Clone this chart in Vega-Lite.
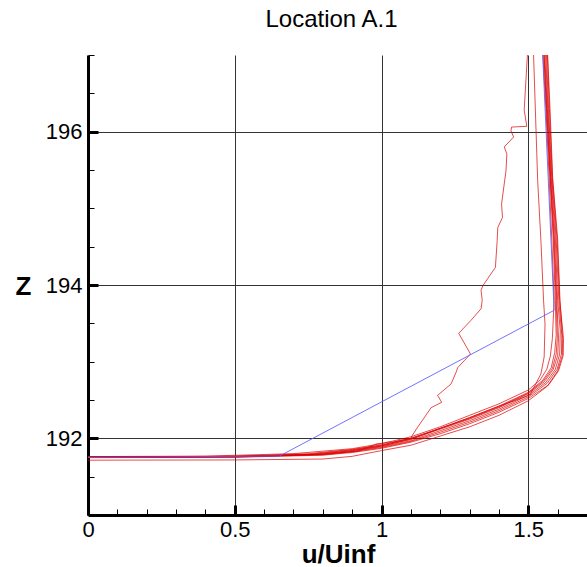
{
  "$schema": "https://vega.github.io/schema/vega-lite/v6.json",
  "width": 499,
  "height": 460,
  "autosize": {"type": "none"},
  "padding": {"left": 88, "top": 55, "right": 0, "bottom": 52},
  "title": {"text": "Location A.1", "fontSize": 24, "font": "Liberation Sans", "fontWeight": "normal", "color": "black", "anchor": "middle", "frame": "group", "baseline": "alphabetic", "offset": 24, "dx": -6, "dy": 31},
  "config": {"view": {"stroke": null}, "font": "Liberation Sans"},
  "data": {"values": [
    {"c":"C1","u":0,"z":191.762},{"c":"C1","u":0.4,"z":191.768},{"c":"C1","u":0.7,"z":191.8},{"c":"C1","u":0.9,"z":191.865},{"c":"C1","u":1.0,"z":191.93},{"c":"C1","u":1.1,"z":192.02},{"c":"C1","u":1.2,"z":192.15},{"c":"C1","u":1.3,"z":192.3},{"c":"C1","u":1.4,"z":192.45},{"c":"C1","u":1.5,"z":192.63},{"c":"C1","u":1.54,"z":192.76},{"c":"C1","u":1.563,"z":192.9},{"c":"C1","u":1.575,"z":193.07},{"c":"C1","u":1.582,"z":193.3},{"c":"C1","u":1.588,"z":193.8},{"c":"C1","u":1.58,"z":194.6},{"c":"C1","u":1.571,"z":195.4},{"c":"C1","u":1.56,"z":196.3},{"c":"C1","u":1.55,"z":197},
    {"c":"C2","u":0,"z":191.758},{"c":"C2","u":0.5,"z":191.765},{"c":"C2","u":0.75,"z":191.79},{"c":"C2","u":0.9,"z":191.85},{"c":"C2","u":1.0,"z":191.91},{"c":"C2","u":1.1,"z":192.0},{"c":"C2","u":1.2,"z":192.13},{"c":"C2","u":1.3,"z":192.27},{"c":"C2","u":1.4,"z":192.42},{"c":"C2","u":1.5,"z":192.6},{"c":"C2","u":1.55,"z":192.76},{"c":"C2","u":1.578,"z":192.92},{"c":"C2","u":1.59,"z":193.12},{"c":"C2","u":1.595,"z":193.35},{"c":"C2","u":1.592,"z":193.8},{"c":"C2","u":1.585,"z":194.6},{"c":"C2","u":1.574,"z":195.4},{"c":"C2","u":1.562,"z":196.3},{"c":"C2","u":1.553,"z":197},
    {"c":"C3","u":0,"z":191.755},{"c":"C3","u":0.5,"z":191.762},{"c":"C3","u":0.75,"z":191.785},{"c":"C3","u":0.9,"z":191.84},{"c":"C3","u":1.0,"z":191.9},{"c":"C3","u":1.1,"z":191.99},{"c":"C3","u":1.2,"z":192.12},{"c":"C3","u":1.3,"z":192.25},{"c":"C3","u":1.4,"z":192.4},{"c":"C3","u":1.5,"z":192.58},{"c":"C3","u":1.555,"z":192.74},{"c":"C3","u":1.585,"z":192.9},{"c":"C3","u":1.6,"z":193.08},{"c":"C3","u":1.603,"z":193.3},{"c":"C3","u":1.597,"z":193.8},{"c":"C3","u":1.589,"z":194.6},{"c":"C3","u":1.576,"z":195.4},{"c":"C3","u":1.565,"z":196.3},{"c":"C3","u":1.556,"z":197},
    {"c":"C4","u":0,"z":191.752},{"c":"C4","u":0.5,"z":191.758},{"c":"C4","u":0.8,"z":191.79},{"c":"C4","u":0.9,"z":191.83},{"c":"C4","u":1.0,"z":191.89},{"c":"C4","u":1.1,"z":191.97},{"c":"C4","u":1.2,"z":192.1},{"c":"C4","u":1.3,"z":192.23},{"c":"C4","u":1.4,"z":192.38},{"c":"C4","u":1.5,"z":192.56},{"c":"C4","u":1.56,"z":192.73},{"c":"C4","u":1.592,"z":192.9},{"c":"C4","u":1.607,"z":193.1},{"c":"C4","u":1.609,"z":193.4},{"c":"C4","u":1.6,"z":193.8},{"c":"C4","u":1.592,"z":194.6},{"c":"C4","u":1.578,"z":195.4},{"c":"C4","u":1.567,"z":196.3},{"c":"C4","u":1.559,"z":197},
    {"c":"C5","u":0,"z":191.75},{"c":"C5","u":0.5,"z":191.756},{"c":"C5","u":0.8,"z":191.785},{"c":"C5","u":0.9,"z":191.825},{"c":"C5","u":1.0,"z":191.88},{"c":"C5","u":1.1,"z":191.96},{"c":"C5","u":1.2,"z":192.08},{"c":"C5","u":1.3,"z":192.21},{"c":"C5","u":1.4,"z":192.36},{"c":"C5","u":1.5,"z":192.54},{"c":"C5","u":1.565,"z":192.72},{"c":"C5","u":1.598,"z":192.9},{"c":"C5","u":1.613,"z":193.1},{"c":"C5","u":1.614,"z":193.35},{"c":"C5","u":1.604,"z":193.8},{"c":"C5","u":1.595,"z":194.6},{"c":"C5","u":1.58,"z":195.4},{"c":"C5","u":1.569,"z":196.3},{"c":"C5","u":1.562,"z":197},
    {"c":"C6","u":0,"z":191.748},{"c":"C6","u":0.5,"z":191.753},{"c":"C6","u":0.8,"z":191.78},{"c":"C6","u":0.9,"z":191.815},{"c":"C6","u":1.0,"z":191.87},{"c":"C6","u":1.1,"z":191.95},{"c":"C6","u":1.2,"z":192.06},{"c":"C6","u":1.3,"z":192.19},{"c":"C6","u":1.4,"z":192.34},{"c":"C6","u":1.5,"z":192.52},{"c":"C6","u":1.57,"z":192.7},{"c":"C6","u":1.603,"z":192.88},{"c":"C6","u":1.619,"z":193.08},{"c":"C6","u":1.62,"z":193.3},{"c":"C6","u":1.607,"z":193.8},{"c":"C6","u":1.598,"z":194.6},{"c":"C6","u":1.582,"z":195.4},{"c":"C6","u":1.572,"z":196.3},{"c":"C6","u":1.565,"z":197},
    {"c":"C7","u":0,"z":191.715},{"c":"C7","u":0.5,"z":191.718},{"c":"C7","u":0.8,"z":191.73},{"c":"C7","u":0.9,"z":191.765},{"c":"C7","u":1.0,"z":191.84},{"c":"C7","u":1.1,"z":191.91},{"c":"C7","u":1.2,"z":192.03},{"c":"C7","u":1.3,"z":192.15},{"c":"C7","u":1.4,"z":192.3},{"c":"C7","u":1.5,"z":192.49},{"c":"C7","u":1.565,"z":192.68},{"c":"C7","u":1.6,"z":192.88},{"c":"C7","u":1.616,"z":193.08},{"c":"C7","u":1.617,"z":193.3},{"c":"C7","u":1.608,"z":193.8},{"c":"C7","u":1.6,"z":194.6},{"c":"C7","u":1.583,"z":195.4},{"c":"C7","u":1.574,"z":196.3},{"c":"C7","u":1.566,"z":197},
    {"c":"C8","u":0,"z":191.752},{"c":"C8","u":0.5,"z":191.762},{"c":"C8","u":0.8,"z":191.795},{"c":"C8","u":0.9,"z":191.84},{"c":"C8","u":1.0,"z":191.9},{"c":"C8","u":1.1,"z":191.985},{"c":"C8","u":1.2,"z":192.13},{"c":"C8","u":1.3,"z":192.26},{"c":"C8","u":1.4,"z":192.41},{"c":"C8","u":1.5,"z":192.59},{"c":"C8","u":1.552,"z":192.75},{"c":"C8","u":1.582,"z":192.91},{"c":"C8","u":1.595,"z":193.1},{"c":"C8","u":1.599,"z":193.32},{"c":"C8","u":1.595,"z":193.8},{"c":"C8","u":1.587,"z":194.6},{"c":"C8","u":1.575,"z":195.4},{"c":"C8","u":1.563,"z":196.3},{"c":"C8","u":1.554,"z":197},
    {"c":"C9","u":0,"z":191.76},{"c":"C9","u":0.5,"z":191.765},{"c":"C9","u":0.75,"z":191.8},{"c":"C9","u":0.9,"z":191.855},{"c":"C9","u":1.0,"z":191.915},{"c":"C9","u":1.1,"z":192.0},{"c":"C9","u":1.2,"z":192.13},{"c":"C9","u":1.3,"z":192.27},{"c":"C9","u":1.4,"z":192.42},{"c":"C9","u":1.46,"z":192.5},{"c":"C9","u":1.507,"z":192.57},{"c":"C9","u":1.52,"z":192.67},{"c":"C9","u":1.543,"z":192.84},{"c":"C9","u":1.554,"z":193.06},{"c":"C9","u":1.557,"z":193.49},{"c":"C9","u":1.552,"z":193.8},{"c":"C9","u":1.543,"z":194.58},{"c":"C9","u":1.532,"z":195.36},{"c":"C9","u":1.518,"z":197},
    {"c":"N","u":0,"z":191.755},{"c":"N","u":0.3,"z":191.758},{"c":"N","u":0.6,"z":191.77},{"c":"N","u":0.8,"z":191.795},{"c":"N","u":0.92,"z":191.83},{"c":"N","u":0.985,"z":191.93},{"c":"N","u":1.0,"z":191.932},{"c":"N","u":1.02,"z":191.95},{"c":"N","u":1.04,"z":191.952},{"c":"N","u":1.06,"z":191.97},{"c":"N","u":1.1,"z":192.0},{"c":"N","u":1.105,"z":192.04},{"c":"N","u":1.124,"z":192.15},{"c":"N","u":1.169,"z":192.4},{"c":"N","u":1.205,"z":192.47},{"c":"N","u":1.191,"z":192.56},{"c":"N","u":1.237,"z":192.71},{"c":"N","u":1.256,"z":192.88},{"c":"N","u":1.259,"z":192.92},{"c":"N","u":1.303,"z":193.1},{"c":"N","u":1.263,"z":193.37},{"c":"N","u":1.305,"z":193.54},{"c":"N","u":1.339,"z":193.69},{"c":"N","u":1.343,"z":193.8},{"c":"N","u":1.339,"z":193.93},{"c":"N","u":1.345,"z":193.99},{"c":"N","u":1.388,"z":194.23},{"c":"N","u":1.394,"z":194.58},{"c":"N","u":1.396,"z":194.75},{"c":"N","u":1.412,"z":194.88},{"c":"N","u":1.409,"z":195.06},{"c":"N","u":1.424,"z":195.49},{"c":"N","u":1.427,"z":195.71},{"c":"N","u":1.418,"z":195.8},{"c":"N","u":1.45,"z":195.93},{"c":"N","u":1.441,"z":196.01},{"c":"N","u":1.443,"z":196.06},{"c":"N","u":1.495,"z":196.07},{"c":"N","u":1.486,"z":196.28},{"c":"N","u":1.497,"z":197},
    {"c":"B","u":0,"z":191.75},{"c":"B","u":0.653,"z":191.77},{"c":"B","u":1.588,"z":193.67},{"c":"B","u":1.549,"z":197}
  ]},
  "encoding": {
    "x": {"field": "u", "type": "quantitative",
      "scale": {"domain": [0, 1.7], "nice": false, "zero": false},
      "axis": {
        "values": [0,0.1,0.2,0.3,0.4,0.5,0.6,0.7,0.8,0.9,1,1.1,1.2,1.3,1.4,1.5,1.6,1.7],
        "labelExpr": "abs(datum.value*2 - round(datum.value*2)) < 0.001 ? format(datum.value, '~g') : ''",
        "title": "u/Uinf", "titleFontSize": 26, "titleFontWeight": "bold", "titleFont": "Liberation Sans", "titleColor": "black",
        "titleX": 250, "titleY": 47, "titleAlign": "center", "titleBaseline": "alphabetic",
        "labelFontSize": 22, "labelFont": "Liberation Sans", "labelColor": "black", "labelPadding": 14, "labelFlush": false, "labelOverlap": false,
        "domainColor": "black", "domainWidth": 3, "tickColor": "black",
        "tickSize": {"condition": {"test": "abs(datum.value*2 - round(datum.value*2)) < 0.001", "value": -10}, "value": -6},
        "tickWidth": {"condition": {"test": "abs(datum.value*2 - round(datum.value*2)) < 0.001", "value": 3}, "value": 1},
        "grid": true, "gridColor": "#333333", "gridWidth": 1,
        "gridOpacity": {"condition": {"test": "abs(datum.value*2 - round(datum.value*2)) < 0.001 && datum.value > 0.01", "value": 1}, "value": 0}
      }},
    "y": {"field": "z", "type": "quantitative",
      "scale": {"domain": [191, 197], "nice": false, "zero": false},
      "axis": {
        "values": [191,191.5,192,192.5,193,193.5,194,194.5,195,195.5,196,196.5,197],
        "labelExpr": "abs(datum.value/2 - round(datum.value/2)) < 0.001 ? format(datum.value, '~g') : ''",
        "title": "Z", "titleAngle": 0, "titleFontSize": 26, "titleFontWeight": "bold", "titleFont": "Liberation Sans", "titleColor": "black",
        "titleX": -65, "titleY": 231, "titleAlign": "center", "titleBaseline": "middle",
        "labelFontSize": 22, "labelFont": "Liberation Sans", "labelColor": "black", "labelPadding": 16, "labelFlush": false, "labelOverlap": false,
        "domainColor": "black", "domainWidth": 3, "tickColor": "black",
        "tickSize": {"condition": {"test": "abs(datum.value/2 - round(datum.value/2)) < 0.001", "value": -10}, "value": -6},
        "tickWidth": {"condition": {"test": "abs(datum.value/2 - round(datum.value/2)) < 0.001", "value": 3}, "value": 1},
        "grid": true, "gridColor": "#333333", "gridWidth": 1,
        "gridOpacity": {"condition": {"test": "abs(datum.value/2 - round(datum.value/2)) < 0.001", "value": 1}, "value": 0}
      }},
    "detail": {"field": "c"},
    "order": {"field": "z"}
  },
  "layer": [
    {"transform": [{"filter": "datum.c != 'B'"}], "mark": {"type": "line", "color": "#dd0000", "strokeWidth": 1, "opacity": 0.7, "clip": true}},
    {"transform": [{"filter": "datum.c == 'B'"}], "mark": {"type": "line", "color": "#5a5aff", "strokeWidth": 1, "opacity": 0.85, "clip": true}}
  ]
}
